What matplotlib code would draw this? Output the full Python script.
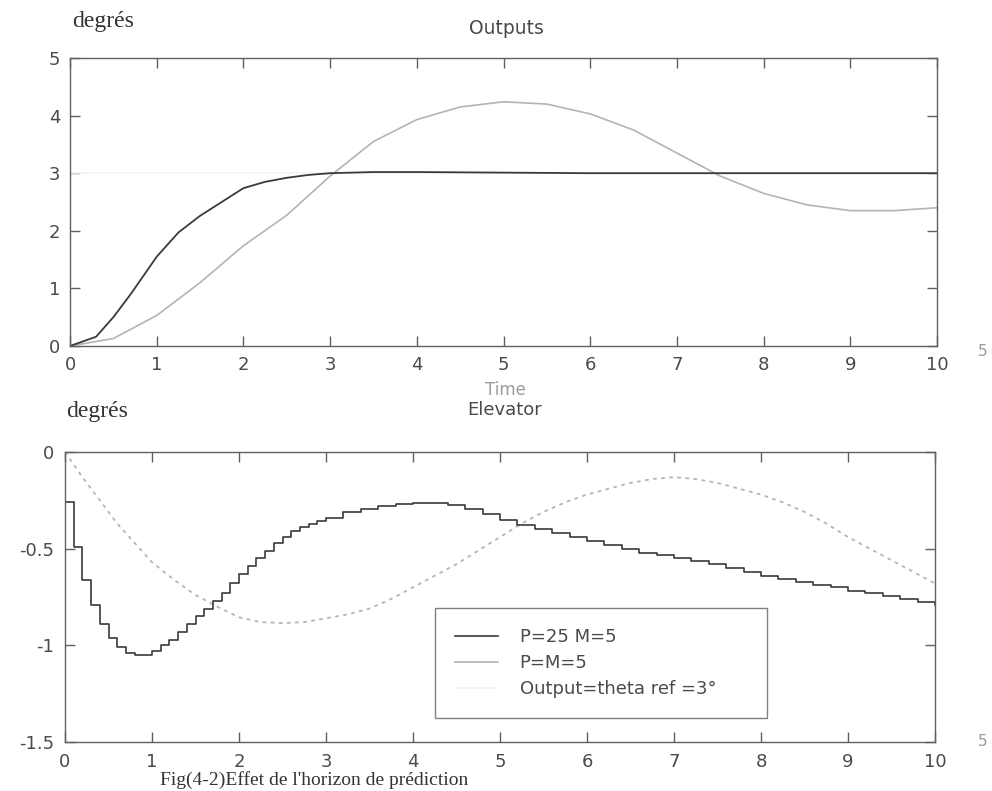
import matplotlib
matplotlib.use("Agg")
import matplotlib.pyplot as plt
from matplotlib.lines import Line2D
import numpy as np

plt.rcParams['axes.unicode_minus'] = False
plt.rcParams['font.family'] = ['DejaVu Sans']

# ---------------- data ----------------
# Top panel: pitch output (degrés)
t_out_fast = [0, 0.3, 0.5, 0.7, 1.0, 1.25, 1.5, 1.75, 2.0, 2.25, 2.5, 2.75, 3.0, 3.5, 4.0, 5.0, 6.0, 7.0, 8.0, 9.0, 10.0]
y_out_fast = [0, 0.16, 0.5, 0.9, 1.55, 1.97, 2.26, 2.5, 2.74, 2.85, 2.92, 2.97, 3.0, 3.02, 3.02, 3.01, 3.0, 3.0, 3.0, 3.0, 3.0]

t_out_slow = [0, 0.5, 1.0, 1.5, 2.0, 2.5, 3.0, 3.5, 4.0, 4.5, 5.0, 5.5, 6.0, 6.5, 7.0, 7.5, 8.0, 8.5, 9.0, 9.5, 10.0]
y_out_slow = [0, 0.13, 0.53, 1.1, 1.74, 2.27, 2.95, 3.55, 3.93, 4.15, 4.24, 4.2, 4.03, 3.75, 3.35, 2.95, 2.65, 2.45, 2.35, 2.35, 2.4]

t_ref = [0, 10]
y_ref = [3, 3]

# Bottom panel: elevator (degrés)
t_elev_fast = [0, 0.1, 0.2, 0.3, 0.4, 0.5, 0.6, 0.7, 0.8, 0.9, 1.0, 1.1, 1.2, 1.3, 1.4, 1.5,
               1.6, 1.7, 1.8, 1.9, 2.0, 2.1, 2.2, 2.3, 2.4, 2.5, 2.6, 2.7, 2.8, 2.9, 3.0,
               3.2, 3.4, 3.6, 3.8, 4.0, 4.2, 4.4, 4.6, 4.8, 5.0, 5.2, 5.4, 5.6, 5.8, 6.0,
               6.2, 6.4, 6.6, 6.8, 7.0, 7.2, 7.4, 7.6, 7.8, 8.0, 8.2, 8.4, 8.6, 8.8, 9.0,
               9.2, 9.4, 9.6, 9.8, 10.0]
u_elev_fast = [-0.26, -0.49, -0.66, -0.79, -0.89, -0.96, -1.01, -1.04, -1.05, -1.05, -1.03, -1.0, -0.97, -0.93, -0.89, -0.85,
               -0.81, -0.77, -0.73, -0.68, -0.63, -0.59, -0.55, -0.51, -0.47, -0.44, -0.41, -0.39, -0.37, -0.355, -0.34,
               -0.31, -0.295, -0.28, -0.27, -0.265, -0.265, -0.275, -0.295, -0.32, -0.35, -0.375, -0.40, -0.42, -0.44, -0.46,
               -0.48, -0.50, -0.52, -0.535, -0.55, -0.565, -0.58, -0.60, -0.62, -0.64, -0.655, -0.67, -0.69, -0.70, -0.72,
               -0.73, -0.745, -0.76, -0.775, -0.79]

t_elev_slow = [0, 0.2, 0.4, 0.6, 0.8, 1.0, 1.25, 1.5, 1.75, 2.0, 2.25, 2.5, 2.75, 3.0, 3.25, 3.5, 3.75,
               4.0, 4.25, 4.5, 4.75, 5.0, 5.25, 5.5, 5.75, 6.0, 6.25, 6.5, 6.75, 7.0, 7.25, 7.5, 7.75,
               8.0, 8.25, 8.5, 8.75, 9.0, 9.25, 9.5, 9.75, 10.0]
u_elev_slow = [0, -0.13, -0.25, -0.37, -0.47, -0.57, -0.66, -0.74, -0.80, -0.855, -0.88, -0.885, -0.88, -0.86, -0.84, -0.81, -0.76,
               -0.70, -0.64, -0.58, -0.51, -0.44, -0.37, -0.31, -0.26, -0.22, -0.19, -0.16, -0.14, -0.13, -0.14, -0.16, -0.19,
               -0.22, -0.26, -0.31, -0.37, -0.44, -0.50, -0.56, -0.62, -0.68]

labels = ['P=25 M=5', 'P=M=5', 'Output=theta ref =3°']
x_ticks = [0, 1, 2, 3, 4, 5, 6, 7, 8, 9, 10]
y_ticks_top = [0, 1, 2, 3, 4, 5]
y_ticks_bot = [0, -0.5, -1, -1.5]
y_ticklabels_bot = ['0', '-0.5', '-1', '-1.5']

# ---------------- styles ----------------
c_fast = '#3a3a3a'
c_slow = '#b4b4b4'
c_ref = '#f4f4f4'
c_axis = '#606060'
c_text = '#4a4a4a'
tick_fs = 13

W, H = 992, 791
fig = plt.figure(figsize=(W / 100, H / 100), dpi=100)
fig.patch.set_facecolor('white')

ax1 = fig.add_axes([70 / W, 1 - 346 / H, (937 - 70) / W, (346 - 58) / H])
ax2 = fig.add_axes([65 / W, 1 - 742 / H, (935 - 65) / W, (742 - 452) / H])


def style(ax, pad):
    for s in ax.spines.values():
        s.set_color(c_axis)
        s.set_linewidth(1.0)
    ax.tick_params(direction='in', length=7, width=1.0, color=c_axis,
                   top=True, right=True, labelsize=tick_fs, labelcolor=c_text, pad=pad)
    ax.set_xlim(0, 10)
    ax.set_xticks(x_ticks)


# Top panel
ax1.plot(t_ref, y_ref, color=c_ref, lw=1.2)
ax1.plot(t_out_slow, y_out_slow, color=c_slow, lw=1.2)
ax1.plot(t_out_fast, y_out_fast, color=c_fast, lw=1.3)
style(ax1, 7)
ax1.set_ylim(0, 5)
ax1.set_yticks(y_ticks_top)

# Bottom panel
ax2.plot(t_elev_slow, u_elev_slow, color=c_slow, lw=1.3, linestyle=(0, (2, 2.5)))
ax2.step([0] + t_elev_fast, [0] + u_elev_fast, where='post', color=c_fast, lw=1.2)
style(ax2, 8)
ax2.set_ylim(-1.5, 0)
ax2.set_yticks(y_ticks_bot)
ax2.set_yticklabels(y_ticklabels_bot)

handles = [Line2D([], [], color=c_fast, lw=1.2),
           Line2D([], [], color=c_slow, lw=1.2),
           Line2D([], [], color=c_ref, lw=1.2)]
leg = ax2.legend(handles, labels, loc='upper left',
                 bbox_to_anchor=(0.425, 0.462, 0.382, 0.0), mode='expand',
                 fontsize=13, frameon=True, fancybox=False, borderpad=1.1,
                 labelspacing=0.45, handlelength=2.4, handletextpad=1.2,
                 borderaxespad=0)
leg.get_frame().set_edgecolor(c_axis)
leg.get_frame().set_linewidth(1.0)
for txt in leg.get_texts():
    txt.set_color(c_text)

# Texts
serif = ['Liberation Serif', 'DejaVu Serif']
fig.text(72 / W, 1 - 22 / H, 'degrés', family=serif, fontsize=17, color='#333333', va='center', ha='left')
fig.text(66 / W, 1 - 411 / H, 'degrés', family=serif, fontsize=17, color='#333333', va='center', ha='left')
fig.text(506 / W, 1 - 29 / H, 'Outputs', fontsize=13.5, color=c_text, ha='center', va='center')
fig.text(505 / W, 1 - 390 / H, 'Time', fontsize=12, color='#9a9a9a', ha='center', va='center')
fig.text(505 / W, 1 - 410 / H, 'Elevator', fontsize=13, color=c_text, ha='center', va='center')
fig.text(978 / W, 1 - 352 / H, '5', fontsize=11, color='#999999', ha='left', va='center')
fig.text(978 / W, 1 - 742 / H, '5', fontsize=11, color='#999999', ha='left', va='center')
fig.text(160 / W, 1 - 785 / H, "Fig(4-2)Effet de l'horizon de prédiction", family=serif,
         fontsize=14, color='#333333', ha='left', va='baseline')

fig.savefig('out.png', dpi=100, facecolor='white')
